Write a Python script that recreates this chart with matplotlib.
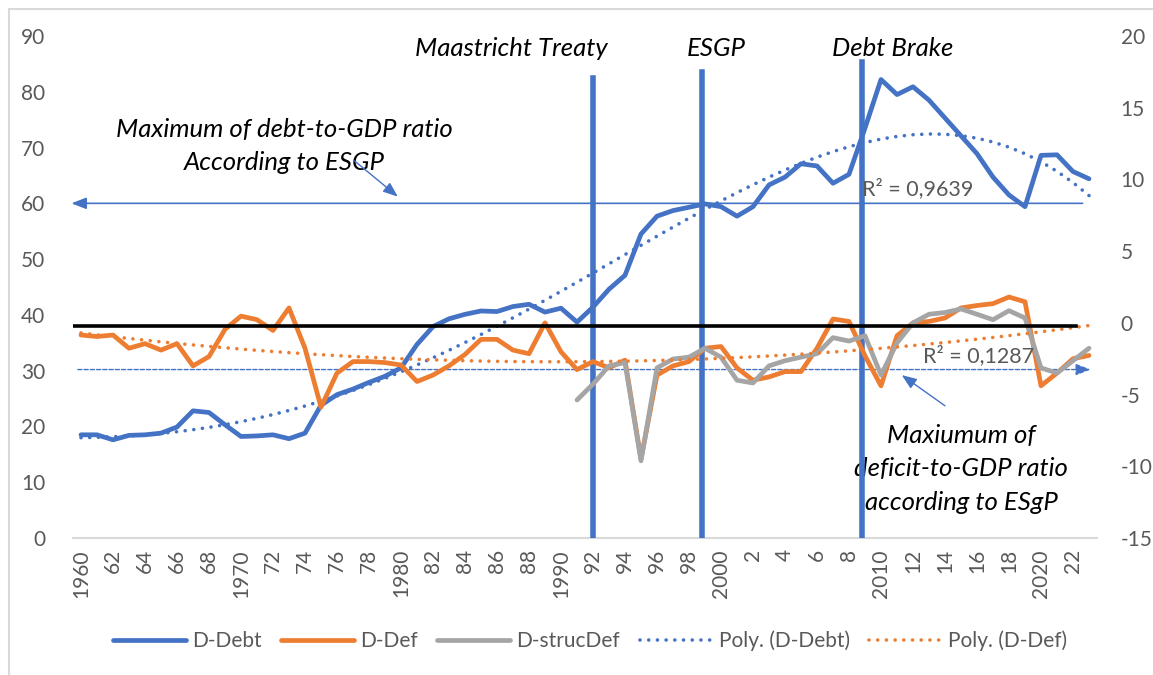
import matplotlib
matplotlib.use("Agg")
import matplotlib.pyplot as plt
from matplotlib.lines import Line2D
from matplotlib.patches import Rectangle
import numpy as np

plt.rcParams['font.family'] = ['Lato', 'DejaVu Sans']
plt.rcParams['axes.unicode_minus'] = False

years = list(range(1960, 2024))

# D-Debt, left axis (% of GDP)
debt = [18.5, 18.5, 17.6, 18.4, 18.5, 18.8, 19.9, 22.8, 22.5, 20.3,
        18.2, 18.3, 18.5, 17.8, 18.8, 23.8, 25.7, 26.7, 27.9, 29.0,
        30.5, 34.7, 37.9, 39.3, 40.1, 40.7, 40.6, 41.5, 41.9, 40.5,
        41.2, 38.7, 41.4, 44.6, 47.1, 54.5, 57.7, 58.7, 59.3, 59.9,
        59.4, 57.7, 59.4, 63.3, 64.7, 67.1, 66.7, 63.6, 65.2, 73.5,
        82.2, 79.5, 80.9, 78.5, 75.3, 72.1, 68.9, 64.7, 61.5, 59.4,
        68.6, 68.7, 65.7, 64.4]

# D-Def, right axis
deficit = [-0.85, -0.95, -0.85, -1.77, -1.45, -1.9, -1.45, -3.0, -2.35, -0.45,
           0.47, 0.22, -0.53, 1.04, -1.77, -5.88, -3.5, -2.7, -2.7, -2.77,
           -2.94, -4.09, -3.64, -3.0, -2.2, -1.15, -1.15, -1.9, -2.15, 0.0,
           -2.02, -3.26, -2.7, -3.14, -2.6, -9.5, -3.64, -3.0, -2.7, -1.77,
           -1.65, -3.14, -4.0, -3.77, -3.4, -3.4, -1.77, 0.27, 0.1, -2.3,
           -4.39, -0.9, 0.0, 0.1, 0.34, 1.04, 1.21, 1.34, 1.8, 1.47,
           -4.39, -3.5, -2.5, -2.27]

# D-strucDef, right axis, from 1991
struc_years = list(range(1991, 2024))
struc_def = [-5.38, -4.27, -3.0, -2.77, -9.62, -3.14, -2.52, -2.39, -1.77, -2.39,
             -4.0, -4.19, -3.0, -2.64, -2.39, -2.15, -1.03, -1.27, -0.9, -3.64,
             -1.4, 0.0, 0.6, 0.72, 0.97, 0.6, 0.22, 0.85, 0.34, -3.14,
             -3.5, -2.64, -1.77]

events = ["Maastricht Treaty", "ESGP", "Debt Brake"]
event_years = [1992, 1999, 2009]

BLUE = "#4472C4"
ORANGE = "#ED7D31"
GRAY = "#A5A5A5"
TXT = "#595959"

fig = plt.figure(figsize=(11.53, 6.75), dpi=100)
fig.patches.append(Rectangle((9 / 1153, -0.1), 1.2, 1 - 9 / 675 + 0.1, transform=fig.transFigure,
                             fill=False, edgecolor="#D9D9D9", lw=1.5))
ax = fig.add_axes([73 / 1153, 1 - 538 / 675, 1024 / 1153, 502 / 675])
ax2 = ax.twinx()

x = np.array(years)
ax.plot(x, debt, color=BLUE, lw=3.4, solid_capstyle="round", zorder=3)
ax2.plot(x, deficit, color=ORANGE, lw=3.4, solid_capstyle="round", zorder=3)
ax2.plot(struc_years, struc_def, color=GRAY, lw=3.4, solid_capstyle="round", zorder=4)

# polynomial trend lines (fitted on category index like Excel)
idx = np.arange(1, len(years) + 1)
p_debt = np.polyfit(idx, debt, 4)
p_def = np.polyfit(idx, deficit, 2)
dots = (0, (0.01, 2.4))
ax.plot(x, np.polyval(p_debt, idx), color=BLUE, lw=2.6, ls=dots, dash_capstyle="round", zorder=5)
ax2.plot(x, np.polyval(p_def, idx), color=ORANGE, lw=2.6, ls=dots, dash_capstyle="round", zorder=5)

ax.set_xlim(1959.5, 2023.5)
ax.set_ylim(0, 90)
ax2.set_ylim(-15, 20)
ax.set_yticks(range(0, 91, 10))
ax2.set_yticks(range(-15, 21, 5))
ax.set_xticks(years[::2])
ax.set_xticklabels([str(y) if y % 10 == 0 else str(y % 100) for y in years[::2]], rotation=90)

for a in (ax, ax2):
    for s in a.spines.values():
        s.set_visible(False)
    a.tick_params(length=0, labelsize=15, labelcolor=TXT)
ax.spines["bottom"].set_visible(True)
ax.spines["bottom"].set_color("#D9D9D9")
ax.spines["bottom"].set_linewidth(1.5)
ax.tick_params(axis="y", pad=20)
ax.tick_params(axis="x", pad=8)
ax2.tick_params(axis="y", pad=17)

# reference lines
arrow = "-|>,head_length=0.9,head_width=0.35"
ax2.plot([1959.45, 2022.2], [-0.2, -0.2], color="black", lw=2.6, zorder=6)
ax.annotate("", xy=(1959.4, 60), xytext=(2022.6, 60), annotation_clip=False,
            arrowprops=dict(arrowstyle=arrow, color=BLUE, lw=1.2, shrinkA=0, shrinkB=0), zorder=6)
ax.annotate("", xy=(2023.1, 30.2), xytext=(1959.8, 30.2), annotation_clip=False,
            arrowprops=dict(arrowstyle=arrow, color=BLUE, lw=1.0, linestyle=(0, (3, 1.5)),
                            shrinkA=0, shrinkB=0), zorder=6)

# event lines
tops = [82.4, 83.5, 85.3]
for ey, top in zip(event_years, tops):
    xe = ey - 0.2 if ey != 1992 else ey
    ax.plot([xe, xe], [0, top], color=BLUE, lw=4, zorder=7)
label_x = [1986.9, 1999.7, 2010.75]
for name, lx in zip(events, label_x):
    ax.text(lx, 87.8, name, fontsize=18.5, style="italic", ha="center", va="center")

# annotations
ax.text(1972.7, 70.3, "Maximum of debt-to-GDP ratio\nAccording to ESGP", fontsize=18.5, style="italic",
        ha="center", va="center", linespacing=1.5)
ax.annotate("", xy=(1979.8, 61.2), xytext=(1977.1, 67.6),
            arrowprops=dict(arrowstyle=arrow, color=BLUE, lw=1.0, shrinkA=0, shrinkB=0), zorder=6)
ax.text(2015.0, 12.4, "Maxiumum of\ndeficit-to-GDP ratio\naccording to ESgP", fontsize=18.5, style="italic",
        ha="center", va="center", linespacing=1.55)
ax.annotate("", xy=(2011.3, 29.2), xytext=(2014.0, 23.7),
            arrowprops=dict(arrowstyle=arrow, color=BLUE, lw=1.0, shrinkA=0, shrinkB=0), zorder=6)
ax.text(2008.8, 62.6, "R\u00b2 = 0,9639", fontsize=15.5, color=TXT, ha="left", va="center", zorder=8)
ax2.text(2012.6, -2.3, "R\u00b2 = 0,1287", fontsize=15.5, color=TXT, ha="left", va="center", zorder=8)

handles = [Line2D([], [], color=BLUE, lw=3.4, solid_capstyle="round"),
           Line2D([], [], color=ORANGE, lw=3.4, solid_capstyle="round"),
           Line2D([], [], color=GRAY, lw=3.4, solid_capstyle="round"),
           Line2D([], [], color=BLUE, lw=2.6, ls=dots, dash_capstyle="round"),
           Line2D([], [], color=ORANGE, lw=2.6, ls=dots, dash_capstyle="round")]
labels = ["D-Debt", "D-Def", "D-strucDef", "Poly. (D-Debt)", "Poly. (D-Def)"]
fig.legend(handles, labels, loc="center", bbox_to_anchor=(0.512, 1 - 641 / 675), ncol=5, frameon=False,
           fontsize=15, labelcolor=TXT, handlelength=3.5, handletextpad=0.3, columnspacing=0.93)

fig.savefig("out.png", dpi=100)
